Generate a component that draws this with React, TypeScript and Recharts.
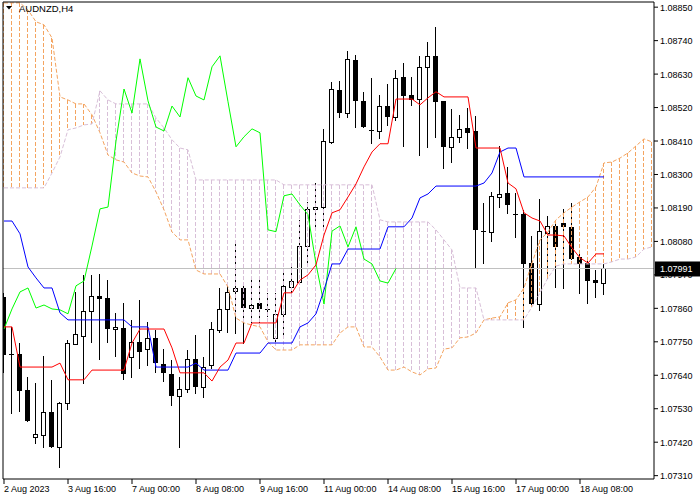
import { ComposedChart, Bar, Line, XAxis, YAxis, ReferenceLine } from "recharts"

// AUDNZD H4 candles, 2 Aug - 18 Aug 2023
const opens = [
  1.07897, 1.0771, 1.0771, 1.07592, 1.07437, 1.07444, 1.07519, 1.07404, 1.07549, 1.07743,
  1.07769, 1.07851, 1.07901, 1.07894, 1.07792, 1.07796, 1.077, 1.0775, 1.07726, 1.07763,
  1.07677, 1.07644, 1.07572, 1.07595, 1.07694, 1.07602, 1.07674, 1.07789, 1.07858, 1.07917,
  1.07927, 1.07861, 1.07878, 1.07858, 1.07763, 1.07842, 1.0793, 1.07947, 1.08065, 1.08187,
  1.08193, 1.08407, 1.08578, 1.08502, 1.08677, 1.08542, 1.08447, 1.08443, 1.08525, 1.08489,
  1.08621, 1.08562, 1.08548, 1.08654, 1.0869, 1.08542, 1.08391, 1.08424, 1.08453, 1.08443,
  1.08114, 1.08111, 1.08226, 1.08239, 1.0817, 1.0817, 1.08009, 1.07874, 1.08108, 1.08131,
  1.08141, 1.08128, 1.08029, 1.08009, 1.07953, 1.07943,
]
const highs = [
  1.07911, 1.07799, 1.07746, 1.07634, 1.07615, 1.07703, 1.07625, 1.07552, 1.07756, 1.07914,
  1.0797, 1.0797, 1.07973, 1.07953, 1.07845, 1.07878, 1.07822, 1.07888, 1.07815, 1.07789,
  1.07726, 1.0769, 1.07634, 1.07723, 1.07772, 1.077, 1.07815, 1.07927, 1.07937, 1.08085,
  1.07943, 1.0796, 1.0796, 1.07911, 1.07911, 1.07976, 1.08003, 1.08151, 1.0821, 1.08272,
  1.0845, 1.08604, 1.08608, 1.08706, 1.08693, 1.08572, 1.08618, 1.08562, 1.08598, 1.08644,
  1.08667, 1.08621, 1.0869, 1.08736, 1.08785, 1.08542, 1.08516, 1.08496, 1.08519, 1.08493,
  1.08207, 1.08243, 1.08394, 1.08325, 1.08239, 1.08184, 1.08098, 1.0822, 1.08164, 1.08151,
  1.08187, 1.08207, 1.08042, 1.08029, 1.07986, 1.08006,
]
const lows = [
  1.07651, 1.07516, 1.07523, 1.0749, 1.07417, 1.07404, 1.07404, 1.07339, 1.07529, 1.07743,
  1.07615, 1.0775, 1.07694, 1.0775, 1.07703, 1.07628, 1.07634, 1.07664, 1.07674, 1.07651,
  1.07621, 1.07542, 1.07404, 1.07585, 1.07582, 1.07569, 1.07664, 1.07782, 1.07782, 1.07779,
  1.07746, 1.07815, 1.07815, 1.07835, 1.07746, 1.07766, 1.07911, 1.07943, 1.08009, 1.08128,
  1.08128, 1.08404, 1.08489, 1.08489, 1.08456, 1.08456, 1.08404, 1.0842, 1.08463, 1.08479,
  1.08394, 1.08529, 1.08364, 1.08391, 1.08424, 1.08322, 1.08341, 1.08407, 1.08388, 1.07993,
  1.08009, 1.08082, 1.08193, 1.08174, 1.08095, 1.07799, 1.07874, 1.07855, 1.0796, 1.0793,
  1.07927, 1.08022, 1.07911, 1.07878, 1.07897, 1.07907,
]
const closes = [
  1.07707, 1.07707, 1.07588, 1.0749, 1.07447, 1.07519, 1.07404, 1.07549, 1.07746, 1.07776,
  1.07851, 1.07901, 1.07891, 1.07792, 1.07799, 1.07644, 1.0775, 1.07717, 1.07763, 1.0768,
  1.07648, 1.07572, 1.07595, 1.07694, 1.07602, 1.07667, 1.07792, 1.07858, 1.07914, 1.07927,
  1.07861, 1.07871, 1.07858, 1.07855, 1.07842, 1.07934, 1.0795, 1.08065, 1.08187, 1.08193,
  1.0841, 1.08581, 1.08502, 1.0868, 1.08542, 1.08456, 1.08443, 1.08525, 1.08489, 1.08618,
  1.08558, 1.08545, 1.08654, 1.0869, 1.08539, 1.08391, 1.08424, 1.0845, 1.08437, 1.08118,
  1.08112, 1.0823, 1.08236, 1.082, 1.08168, 1.08006, 1.07874, 1.08114, 1.08131, 1.08062,
  1.08128, 1.08022, 1.08006, 1.0795, 1.07943, 1.07991,
]

// Ichimoku lines
const tenkan = [
  1.07799, 1.07799, 1.07667, 1.07667, 1.07667, 1.07667, 1.07667, 1.0768, 1.07625, 1.07625,
  1.07625, 1.07657, 1.07657, 1.07657, 1.07657, 1.07657, 1.07746, 1.07792, 1.07792, 1.07792,
  1.07792, 1.0773, 1.07648, 1.07648, 1.07648, 1.07648, 1.07621, 1.07667, 1.0769, 1.07746,
  1.07746, 1.07812, 1.07812, 1.07812, 1.07812, 1.07911, 1.07911, 1.07953, 1.0797, 1.08003,
  1.08101, 1.08174, 1.08184, 1.08226, 1.08269, 1.08325, 1.08374, 1.08401, 1.08401, 1.08548,
  1.08548, 1.08548, 1.08529, 1.08552, 1.08572, 1.08555, 1.08555, 1.08555, 1.08555, 1.08387,
  1.08387, 1.08387, 1.08387, 1.08272, 1.08253, 1.08174, 1.08157, 1.08147, 1.08101, 1.08101,
  1.08098, 1.08059, 1.08026, 1.08009, 1.08039, 1.08039,
]
const kijun = [
  1.08147, 1.08147, 1.08105, 1.07996, 1.0796, 1.07927, 1.07927, 1.07845, 1.07822, 1.07822,
  1.07822, 1.07822, 1.07822, 1.07822, 1.07822, 1.07822, 1.07799, 1.07799, 1.07799, 1.07667,
  1.07667, 1.07667, 1.07667, 1.07667, 1.0768, 1.07657, 1.07657, 1.07657, 1.07657, 1.07713,
  1.07713, 1.07713, 1.07713, 1.07746, 1.07746, 1.07746, 1.07746, 1.07799, 1.07812, 1.07842,
  1.0792, 1.08006, 1.08006, 1.08055, 1.08055, 1.08055, 1.08055, 1.08055, 1.08128, 1.08128,
  1.08128, 1.08157, 1.08223, 1.08236, 1.08262, 1.08262, 1.08262, 1.08262, 1.08262, 1.08262,
  1.08272, 1.08305, 1.08374, 1.08387, 1.08387, 1.08292, 1.08292, 1.08292, 1.08292, 1.08292,
  1.08292, 1.08292, 1.08292, 1.08292, 1.08292, 1.08292,
]
const chikou = [
  1.07792, 1.07858, 1.07914, 1.07927, 1.07861, 1.07871, 1.07858, 1.07855, 1.07842, 1.07934,
  1.0795, 1.08065, 1.08187, 1.08193, 1.0841, 1.08581, 1.08502, 1.0868, 1.08542, 1.08456,
  1.08443, 1.08525, 1.08489, 1.08618, 1.08558, 1.08545, 1.08654, 1.0869, 1.08539, 1.08391,
  1.08424, 1.0845, 1.08437, 1.08118, 1.08112, 1.0823, 1.08236, 1.082, 1.08168, 1.08006,
  1.07874, 1.08114, 1.08131, 1.08062, 1.08128, 1.08022, 1.08006, 1.0795, 1.07943, 1.07991,
]
const spanA = [
  1.08864, 1.08864, 1.08864, 1.08841, 1.08802, 1.08792, 1.08749, 1.08555, 1.08545, 1.08532,
  1.08532, 1.08496, 1.08437, 1.08364, 1.08348, 1.08341, 1.08305, 1.08295, 1.08292, 1.08243,
  1.08184, 1.08111, 1.08085, 1.08085, 1.07986, 1.07973, 1.07973, 1.07973, 1.0793, 1.07828,
  1.07812, 1.07805, 1.07799, 1.0775, 1.07723, 1.07723, 1.07723, 1.0774, 1.0774, 1.0774,
  1.0774, 1.0774, 1.07779, 1.07799, 1.07799, 1.07733, 1.07733, 1.077, 1.07657, 1.07657,
  1.07667, 1.07651, 1.07641, 1.07661, 1.07664, 1.07726, 1.0773, 1.07763, 1.07766, 1.07779,
  1.07822, 1.07828, 1.07832, 1.07878, 1.07888, 1.07927, 1.08009, 1.08085, 1.08111, 1.08151,
  1.08174, 1.08193, 1.0821, 1.08226, 1.08259, 1.08338, 1.08341, 1.08354, 1.08371, 1.08394,
  1.08417, 1.08407,
]
const spanB = [
  1.08256, 1.08256, 1.08256, 1.08256, 1.08256, 1.08256, 1.08305, 1.08358, 1.08447, 1.08453,
  1.08463, 1.08466, 1.08575, 1.08545, 1.08532, 1.08532, 1.08532, 1.08532, 1.08532, 1.08486,
  1.08453, 1.08414, 1.08387, 1.08381, 1.08282, 1.08282, 1.08282, 1.08282, 1.08282, 1.08282,
  1.08282, 1.08282, 1.08282, 1.08282, 1.08282, 1.08266, 1.08266, 1.08266, 1.08266, 1.08266,
  1.08266, 1.08266, 1.08266, 1.08266, 1.08266, 1.08266, 1.08266, 1.08151, 1.08144, 1.08144,
  1.08144, 1.08144, 1.08144, 1.08144, 1.08118, 1.08085, 1.08052, 1.07927, 1.07927, 1.07927,
  1.07822, 1.07822, 1.07822, 1.07822, 1.07822, 1.07822, 1.07865, 1.07911, 1.0796, 1.07999,
  1.08006, 1.08006, 1.08006, 1.08006, 1.08006, 1.08006, 1.08013, 1.08022, 1.08022, 1.08029,
  1.08055, 1.08062,
]

const xTicks = [0, 8, 16, 24, 32, 40, 48, 56, 64, 72]
const xLabels = [
  "2 Aug 2023", "3 Aug 16:00", "7 Aug 00:00", "8 Aug 08:00", "9 Aug 16:00",
  "11 Aug 00:00", "14 Aug 08:00", "15 Aug 16:00", "17 Aug 00:00", "18 Aug 08:00",
]
const yTicks = [
  1.0731, 1.0742, 1.0753, 1.0764, 1.0775, 1.0786, 1.0797, 1.0808,
  1.0819, 1.083, 1.0841, 1.0852, 1.0863, 1.0874, 1.0885,
]
const lastPrice = 1.07991

const X_MIN = -0.125
const X_MAX = 81.25
const Y_MIN = 1.07299
const Y_MAX = 1.08867

const SANDY = "#F4A460"
const THISTLE = "#D8BFD8"
const FONT = "Liberation Sans, Arial, sans-serif"

const data = spanA.map((a, i) => {
  const b = spanB[i]
  const has = i < opens.length
  const lo = Math.min(a, b)
  const hi = Math.max(a, b)
  return {
    i,
    open: has ? opens[i] : null,
    high: has ? highs[i] : null,
    low: has ? lows[i] : null,
    close: has ? closes[i] : null,
    range: has ? [lows[i], highs[i]] : null,
    cloudUp: a >= b ? [lo, hi] : null,
    cloudDown: a < b ? [lo, hi] : null,
    tenkan: i < tenkan.length ? tenkan[i] : null,
    kijun: i < kijun.length ? kijun[i] : null,
    chikou: i < chikou.length ? chikou[i] : null,
    spanA: a,
    spanB: b,
  }
})

function Candle(props: any) {
  const { x, y, width, height, payload } = props
  if (payload == null || payload.open == null) return null
  const p = Math.round(x + width / 2 - 0.5)
  const top = Math.min(y, y + height)
  const bot = Math.max(y, y + height)
  const span = payload.high - payload.low
  const at = (v: number) => (span > 0 ? top + ((payload.high - v) / span) * (bot - top) : top)
  const yo = at(payload.open)
  const yc = at(payload.close)
  const bt = Math.round(Math.min(yo, yc))
  const bb = Math.round(Math.max(yo, yc))
  const wick = (
    <rect x={p} y={Math.round(top)} width={1} height={Math.round(bot) - Math.round(top) + 1} fill="#000" />
  )
  if (payload.close > payload.open) {
    return (
      <g>
        {wick}
        <rect x={p - 2} y={bt} width={5} height={Math.max(bb - bt, 1) + 1} fill="#000" />
        <rect x={p - 1} y={bt + 1} width={3} height={Math.max(bb - bt - 1, 0)} fill="#fff" />
      </g>
    )
  }
  return (
    <g>
      {wick}
      <rect x={p - 2} y={bt} width={5} height={Math.max(bb - bt, 1)} fill="#000" />
    </g>
  )
}

// dashed vertical stroke between the two spans, drawn as small filled rects
function Hatch(props: any) {
  const { x, y, width, height, color } = props
  if (height == null || isNaN(y)) return null
  const p = Math.round(x + width / 2 - 0.5)
  const top = Math.round(Math.min(y, y + height))
  const bot = Math.round(Math.max(y, y + height))
  const dashes = []
  for (let t = top; t < bot; t += 6) {
    dashes.push(<rect key={t} x={p} y={t} width={1} height={Math.min(4, bot - t)} fill={color} />)
  }
  return <g>{dashes}</g>
}

function XTick(props: any) {
  const { x, y, payload } = props
  const idx = xTicks.indexOf(payload.value)
  return (
    <text x={x} y={y + 6} fontSize={9} fontFamily={FONT} fill="#000" textAnchor="start">
      {idx >= 0 ? xLabels[idx] : ""}
    </text>
  )
}

function YTick(props: any) {
  const { x, y, payload } = props
  return (
    <text x={x} y={y + 3.5} fontSize={9} fontFamily={FONT} fill="#000" textAnchor="start">
      {Number(payload.value).toFixed(5)}
    </text>
  )
}

function PriceTag(props: any) {
  const vb = props.viewBox || {}
  const right = (vb.x || 0) + (vb.width || 0)
  const y = vb.y || 0
  return (
    <g>
      <rect x={right + 1} y={y - 7} width={45} height={15} fill="#000" />
      <text x={right + 6} y={y + 3.5} fontSize={9} fontFamily={FONT} fill="#fff">
        {lastPrice.toFixed(5)}
      </text>
    </g>
  )
}

export default function App() {
  return (
    <div style={{ position: "absolute", left: 0, top: 0, width: 700, height: 500, background: "#fff" }}>
      <ComposedChart
        width={700}
        height={500}
        data={data}
        margin={{ top: 2, right: 0, bottom: 0, left: 3 }}
      >
        <XAxis
          xAxisId="c"
          type="number"
          dataKey="i"
          domain={[X_MIN, X_MAX]}
          allowDataOverflow
          ticks={xTicks}
          interval={0}
          height={21}
          tickSize={5}
          axisLine={{ stroke: "#000" }}
          tickLine={{ stroke: "#000" }}
          tick={<XTick />}
        />
        <XAxis xAxisId="h1" type="number" dataKey="i" domain={[X_MIN, X_MAX]} allowDataOverflow hide />
        <XAxis xAxisId="h2" type="number" dataKey="i" domain={[X_MIN, X_MAX]} allowDataOverflow hide />
        <YAxis
          orientation="right"
          type="number"
          domain={[Y_MIN, Y_MAX]}
          allowDataOverflow
          ticks={yTicks}
          interval={0}
          width={46}
          tickSize={4}
          axisLine={{ stroke: "#000" }}
          tickLine={{ stroke: "#000" }}
          tick={<YTick />}
        />
        <ReferenceLine xAxisId="c" y={lastPrice} stroke="#C0C0C0" label={<PriceTag />} />
        <Bar xAxisId="c" dataKey="range" barSize={5} fill="#000" shape={<Candle />} isAnimationActive={false} />
        <Bar xAxisId="h1" dataKey="cloudUp" barSize={5} fill={SANDY} shape={<Hatch color={SANDY} />} isAnimationActive={false} />
        <Bar xAxisId="h2" dataKey="cloudDown" barSize={5} fill={THISTLE} shape={<Hatch color={THISTLE} />} isAnimationActive={false} />
        <Line xAxisId="c" dataKey="spanA" stroke={SANDY} strokeWidth={1} strokeDasharray="4 2" dot={false} activeDot={false} isAnimationActive={false} />
        <Line xAxisId="c" dataKey="spanB" stroke={THISTLE} strokeWidth={1} strokeDasharray="4 2" dot={false} activeDot={false} isAnimationActive={false} />
        <Line xAxisId="c" dataKey="chikou" stroke="#00FF00" strokeWidth={1} dot={false} activeDot={false} isAnimationActive={false} />
        <Line xAxisId="c" dataKey="kijun" stroke="#0000FF" strokeWidth={1} dot={false} activeDot={false} isAnimationActive={false} />
        <Line xAxisId="c" dataKey="tenkan" stroke="#FF0000" strokeWidth={1} dot={false} activeDot={false} isAnimationActive={false} />
        <ReferenceLine xAxisId="c" x={X_MIN} stroke="#000" />
        <ReferenceLine xAxisId="c" y={Y_MAX} stroke="#000" />
      </ComposedChart>
      <div style={{ position: "absolute", left: 6, top: 3, display: "flex", alignItems: "center", pointerEvents: "none" }}>
        <svg width={8} height={6} style={{ marginRight: 5 }}>
          <polygon points="0,0 6,0 3,3.5" fill="#000" />
        </svg>
        <span style={{ fontFamily: FONT, fontSize: 9.5, color: "#000", lineHeight: "12px" }}>AUDNZD,H4</span>
      </div>
    </div>
  )
}
